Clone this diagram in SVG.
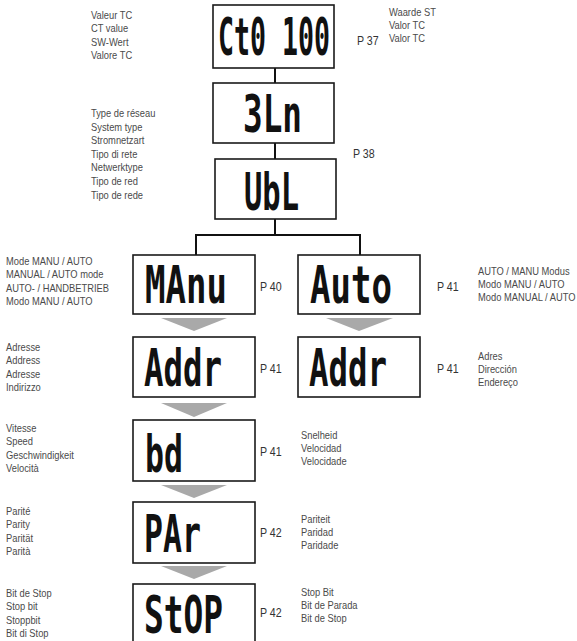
<svg xmlns="http://www.w3.org/2000/svg" width="577" height="641" viewBox="0 0 577 641">
<style>
.bg{fill:#fff}
.box{fill:#fff;stroke:#1a1a1a;stroke-width:1.6}
.lcd{font-family:"DejaVu Sans Mono","Liberation Mono",monospace;fill:#111;font-size:52px;font-weight:bold}
.lbl{font-family:"Liberation Sans",Arial,sans-serif;font-size:11.4px;fill:#4a4a4a}
.pg{font-family:"Liberation Sans",Arial,sans-serif;font-size:13px;fill:#333}
.con{stroke:#111;stroke-width:2;fill:none}
.tri{fill:#a9a9a9}
</style>
<rect class="bg" width="577" height="641"/>
<g id="connectors">
<path class="con" d="M275 68V83M275 143V159M275 219V235M196 235H360M196 234V255M360 234V255"/>
<polygon class="tri" points="161,318 227,318 194,331"/>
<polygon class="tri" points="326,318 393,318 359,331"/>
<polygon class="tri" points="161,403 227,403 194,417"/>
<polygon class="tri" points="161,485 227,485 194,498"/>
<polygon class="tri" points="161,566 227,566 194,579"/>
</g>
<g id="ct">
<rect class="box" x="213" y="5" width="121" height="63"/>
<text class="lcd" x="218" y="55" textLength="112" lengthAdjust="spacingAndGlyphs">Ct0 100</text>
<text class="lbl" transform="translate(91,19) scale(0.82 1)"><tspan x="0" y="0">Valeur TC</tspan><tspan x="0" y="13.5">CT value</tspan><tspan x="0" y="27">SW-Wert</tspan><tspan x="0" y="40.5">Valore TC</tspan></text>
<text class="pg" transform="translate(357,45) scale(0.82 1)">P 37</text>
<text class="lbl" transform="translate(389,16) scale(0.82 1)"><tspan x="0" y="0">Waarde ST</tspan><tspan x="0" y="13">Valor TC</tspan><tspan x="0" y="26">Valor TC</tspan></text>
</g>
<g id="sys">
<rect class="box" x="213" y="83" width="121" height="60"/>
<text class="lcd" x="243" y="132" textLength="59" lengthAdjust="spacingAndGlyphs">3Ln</text>
<text class="lbl" transform="translate(91,117) scale(0.82 1)"><tspan x="0" y="0">Type de réseau</tspan><tspan x="0" y="13.6">System type</tspan><tspan x="0" y="27.2">Stromnetzart</tspan><tspan x="0" y="40.8">Tipo di rete</tspan><tspan x="0" y="54.4">Netwerktype</tspan><tspan x="0" y="68">Tipo de red</tspan><tspan x="0" y="81.6">Tipo de rede</tspan></text>
<text class="pg" transform="translate(353,158) scale(0.82 1)">P 38</text>
</g>
<g id="ubl">
<rect class="box" x="215" y="159" width="121" height="60"/>
<text class="lcd" x="244" y="210" textLength="55" lengthAdjust="spacingAndGlyphs">UbL</text>
</g>
<g id="manu">
<rect class="box" x="133" y="255" width="122" height="59"/>
<text class="lcd" x="145" y="303" textLength="82" lengthAdjust="spacingAndGlyphs">MAnu</text>
<text class="lbl" transform="translate(6,265) scale(0.82 1)"><tspan x="0" y="0">Mode MANU / AUTO</tspan><tspan x="0" y="13.3">MANUAL / AUTO mode</tspan><tspan x="0" y="26.6">AUTO- / HANDBETRIEB</tspan><tspan x="0" y="40">Modo MANU / AUTO</tspan></text>
<text class="pg" transform="translate(260,291) scale(0.82 1)">P 40</text>
</g>
<g id="auto">
<rect class="box" x="298" y="255" width="122" height="59"/>
<text class="lcd" x="310" y="303" textLength="82" lengthAdjust="spacingAndGlyphs">Auto</text>
<text class="pg" transform="translate(437,291) scale(0.82 1)">P 41</text>
<text class="lbl" transform="translate(478,275) scale(0.82 1)"><tspan x="0" y="0">AUTO / MANU Modus</tspan><tspan x="0" y="13">Modo MANU / AUTO</tspan><tspan x="0" y="26">Modo MANUAL / AUTO</tspan></text>
</g>
<g id="addr-l">
<rect class="box" x="133" y="337" width="122" height="60"/>
<text class="lcd" x="144" y="386" textLength="78" lengthAdjust="spacingAndGlyphs">Addr</text>
<text class="lbl" transform="translate(6,351) scale(0.82 1)"><tspan x="0" y="0">Adresse</tspan><tspan x="0" y="13.3">Address</tspan><tspan x="0" y="26.6">Adresse</tspan><tspan x="0" y="40">Indirizzo</tspan></text>
<text class="pg" transform="translate(260,373) scale(0.82 1)">P 41</text>
</g>
<g id="addr-r">
<rect class="box" x="298" y="337" width="122" height="60"/>
<text class="lcd" x="309" y="386" textLength="78" lengthAdjust="spacingAndGlyphs">Addr</text>
<text class="pg" transform="translate(437,373) scale(0.82 1)">P 41</text>
<text class="lbl" transform="translate(478,360) scale(0.82 1)"><tspan x="0" y="0">Adres</tspan><tspan x="0" y="13">Dirección</tspan><tspan x="0" y="26">Endereço</tspan></text>
</g>
<g id="bd">
<rect class="box" x="133" y="420" width="122" height="61"/>
<text class="lcd" x="145" y="472" textLength="38" lengthAdjust="spacingAndGlyphs">bd</text>
<text class="lbl" transform="translate(6,432) scale(0.82 1)"><tspan x="0" y="0">Vitesse</tspan><tspan x="0" y="13.3">Speed</tspan><tspan x="0" y="26.6">Geschwindigkeit</tspan><tspan x="0" y="40">Velocità</tspan></text>
<text class="pg" transform="translate(260,456) scale(0.82 1)">P 41</text>
<text class="lbl" transform="translate(301,439) scale(0.82 1)"><tspan x="0" y="0">Snelheid</tspan><tspan x="0" y="13">Velocidad</tspan><tspan x="0" y="26">Velocidade</tspan></text>
</g>
<g id="par">
<rect class="box" x="133" y="502" width="122" height="61"/>
<text class="lcd" x="144" y="552" textLength="57" lengthAdjust="spacingAndGlyphs">PAr</text>
<text class="lbl" transform="translate(6,515) scale(0.82 1)"><tspan x="0" y="0">Parité</tspan><tspan x="0" y="13.3">Parity</tspan><tspan x="0" y="26.6">Parität</tspan><tspan x="0" y="40">Parità</tspan></text>
<text class="pg" transform="translate(260,537) scale(0.82 1)">P 42</text>
<text class="lbl" transform="translate(301,523) scale(0.82 1)"><tspan x="0" y="0">Pariteit</tspan><tspan x="0" y="13">Paridad</tspan><tspan x="0" y="26">Paridade</tspan></text>
</g>
<g id="stop">
<rect class="box" x="133" y="584" width="122" height="70"/>
<text class="lcd" x="144" y="633" textLength="79" lengthAdjust="spacingAndGlyphs">StOP</text>
<text class="lbl" transform="translate(6,597) scale(0.82 1)"><tspan x="0" y="0">Bit de Stop</tspan><tspan x="0" y="13.3">Stop bit</tspan><tspan x="0" y="26.6">Stoppbit</tspan><tspan x="0" y="40">Bit di Stop</tspan></text>
<text class="pg" transform="translate(260,617) scale(0.82 1)">P 42</text>
<text class="lbl" transform="translate(301,596) scale(0.82 1)"><tspan x="0" y="0">Stop Bit</tspan><tspan x="0" y="13">Bit de Parada</tspan><tspan x="0" y="26">Bit de Stop</tspan></text>
</g>
</svg>
